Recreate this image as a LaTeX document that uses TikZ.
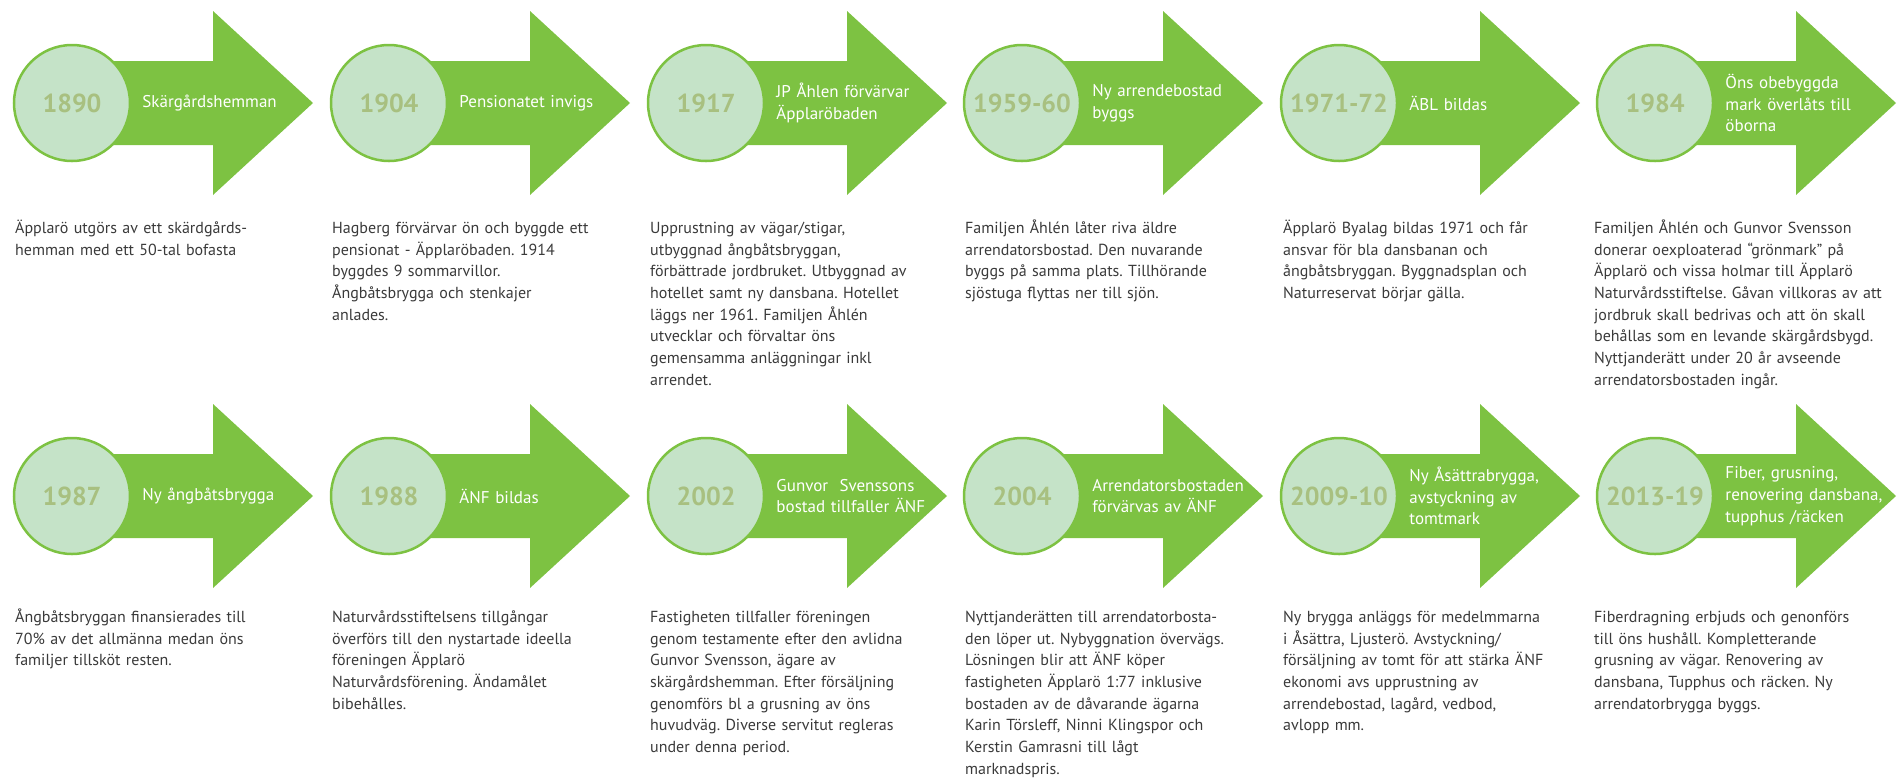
\documentclass[tikz,border=0pt]{standalone}
\usepackage{fontspec}
\setmainfont{PT Sans}
\usepackage{tikz}
\usetikzlibrary{positioning}
\definecolor{arrowgreen}{HTML}{7DC242}
\definecolor{mint}{HTML}{C5E3C8}
\definecolor{yeargreen}{HTML}{A8C080}
\definecolor{bodygray}{HTML}{3A3A3A}
\frenchspacing

\begin{document}
\begin{tikzpicture}[x=1pt,y=-1pt,node distance=11pt,
                    every node/.style={inner sep=0pt}]
\tikzstyle{yearball}=[circle,minimum size=116pt,draw=arrowgreen,line width=2.5pt,fill=mint,text=yeargreen,font=\fontsize{26pt}{28pt}\bfseries]
\tikzstyle{eventtext}=[anchor=west,text=white,text width=185pt,align=left,font=\fontsize{17pt}{21.7pt}\selectfont]
\tikzstyle{notetext}=[anchor=north west,text=bodygray,text width=330pt,align=left,font=\fontsize{16pt}{21.7pt}\selectfont,execute at begin node=\strut]
\useasboundingbox (0,0) rectangle (1897,780);

        % arrows behind the year circles
        \foreach \cx in {72,389,706,1022,1339,1655}
          \foreach \cy in {103,496}
            \fill[arrowgreen] (\cx,\cy-42) -- (\cx+141,\cy-42) -- (\cx+141,\cy-92) -- (\cx+241,\cy)
                              -- (\cx+141,\cy+92) -- (\cx+141,\cy+42) -- (\cx,\cy+42) -- cycle;

        % first row
        \node[yearball]   (y1890)   at (72,103)     {1890};
        \node[yearball]   (y1904)   at (389,103)    {1904};
        \node[yearball]   (y1917)   at (706,103)    {1917};
        \node[yearball]   (y1959)   at (1022,103)   {1959-60};
        \node[yearball]   (y1971)   at (1339,103)   {1971-72};
        \node[yearball]   (y1984)   at (1655,103)   {1984};

        \node[eventtext]  (e1890)   [right=of y1890]  {Skärgårdshemman};
        \node[eventtext]  (e1904)   [right=of y1904]  {Pensionatet invigs};
        \node[eventtext]  (e1917)   [right=of y1917]  {JP Åhlen förvärvar\\Äpplaröbaden};
        \node[eventtext]  (e1959)   [right=of y1959]  {Ny arrendebostad\\byggs};
        \node[eventtext]  (e1971)   [right=of y1971]  {ÄBL bildas};
        \node[eventtext]  (e1984)   [right=of y1984]  {Öns obebyggda\\mark överlåts till\\öborna};

        \node[notetext]   (n1890)   at (15,218)     {Äpplarö utgörs av ett skärdgårds-\\hemman med ett 50-tal bofasta};
        \node[notetext]   (n1904)   at (332,218)    {Hagberg förvärvar ön och byggde ett\\pensionat - Äpplaröbaden. 1914\\byggdes 9 sommarvillor.\\Ångbåtsbrygga och stenkajer\\anlades.};
        \node[notetext]   (n1917)   at (650,218)    {Upprustning av vägar/stigar,\\utbyggnad ångbåtsbryggan,\\förbättrade jordbruket. Utbyggnad av\\hotellet samt ny dansbana. Hotellet\\läggs ner 1961. Familjen Åhlén\\utvecklar och förvaltar öns\\gemensamma anläggningar inkl\\arrendet.};
        \node[notetext]   (n1959)   at (965,218)    {Familjen Åhlén låter riva äldre\\arrendatorsbostad. Den nuvarande\\byggs på samma plats. Tillhörande\\sjöstuga flyttas ner till sjön.};
        \node[notetext]   (n1971)   at (1283,218)   {Äpplarö Byalag bildas 1971 och får\\ansvar för bla dansbanan och\\ångbåtsbryggan. Byggnadsplan och\\Naturreservat börjar gälla.};
        \node[notetext]   (n1984)   at (1594,218)   {Familjen Åhlén och Gunvor Svensson\\donerar oexploaterad “grönmark” på\\Äpplarö och vissa holmar till Äpplarö\\Naturvårdsstiftelse. Gåvan villkoras av att\\jordbruk skall bedrivas och att ön skall\\behållas som en levande skärgårdsbygd.\\Nyttjanderätt under 20 år avseende\\arrendatorsbostaden ingår.};

        % second row
        \node[yearball]   (y1987)   at (72,496)     {1987};
        \node[yearball]   (y1988)   at (389,496)    {1988};
        \node[yearball]   (y2002)   at (706,496)    {2002};
        \node[yearball]   (y2004)   at (1022,496)   {2004};
        \node[yearball]   (y2009)   at (1339,496)   {2009-10};
        \node[yearball]   (y2013)   at (1655,496)   {2013-19};

        \node[eventtext]  (e1987)   [right=of y1987]  {Ny ångbåtsbrygga};
        \node[eventtext]  (e1988)   [right=of y1988]  {ÄNF bildas};
        \node[eventtext]  (e2002)   [right=of y2002]  {Gunvor\ \ Svenssons\\bostad tillfaller ÄNF};
        \node[eventtext]  (e2004)   [right=of y2004]  {Arrendatorsbostaden\\förvärvas av ÄNF};
        \node[eventtext]  (e2009)   [right=of y2009]  {Ny Åsättrabrygga,\\avstyckning av\\tomtmark};
        \node[eventtext]  (e2013)   [right=of y2013]  {Fiber, grusning,\\renovering dansbana,\\tupphus /räcken};

        \node[notetext]   (n1987)   at (15,607)     {Ångbåtsbryggan finansierades till\\70\% av det allmänna medan öns\\familjer tillsköt resten.};
        \node[notetext]   (n1988)   at (332,607)    {Naturvårdsstiftelsens tillgångar\\överförs till den nystartade ideella\\föreningen Äpplarö\\Naturvårdsförening. Ändamålet\\bibehålles.};
        \node[notetext]   (n2002)   at (650,607)    {Fastigheten tillfaller föreningen\\genom testamente efter den avlidna\\Gunvor Svensson, ägare av\\skärgårdshemman. Efter försäljning\\genomförs bl a grusning av öns\\huvudväg. Diverse servitut regleras\\under denna period.};
        \node[notetext]   (n2004)   at (965,607)    {Nyttjanderätten till arrendatorbosta-\\den löper ut. Nybyggnation övervägs.\\Lösningen blir att ÄNF köper\\fastigheten Äpplarö 1:77 inklusive\\bostaden av de dåvarande ägarna\\Karin Törsleff, Ninni Klingspor och\\Kerstin Gamrasni till lågt\\marknadspris.};
        \node[notetext]   (n2009)   at (1283,607)   {Ny brygga anläggs för medelmmarna\\i Åsättra, Ljusterö. Avstyckning/\\försäljning av tomt för att stärka ÄNF\\ekonomi avs upprustning av\\arrendebostad, lagård, vedbod,\\avlopp mm.};
        \node[notetext]   (n2013)   at (1594,607)   {Fiberdragning erbjuds och genonförs\\till öns hushåll. Kompletterande\\grusning av vägar. Renovering av\\dansbana, Tupphus och räcken. Ny\\arrendatorbrygga byggs.};
\end{tikzpicture}
\end{document}
